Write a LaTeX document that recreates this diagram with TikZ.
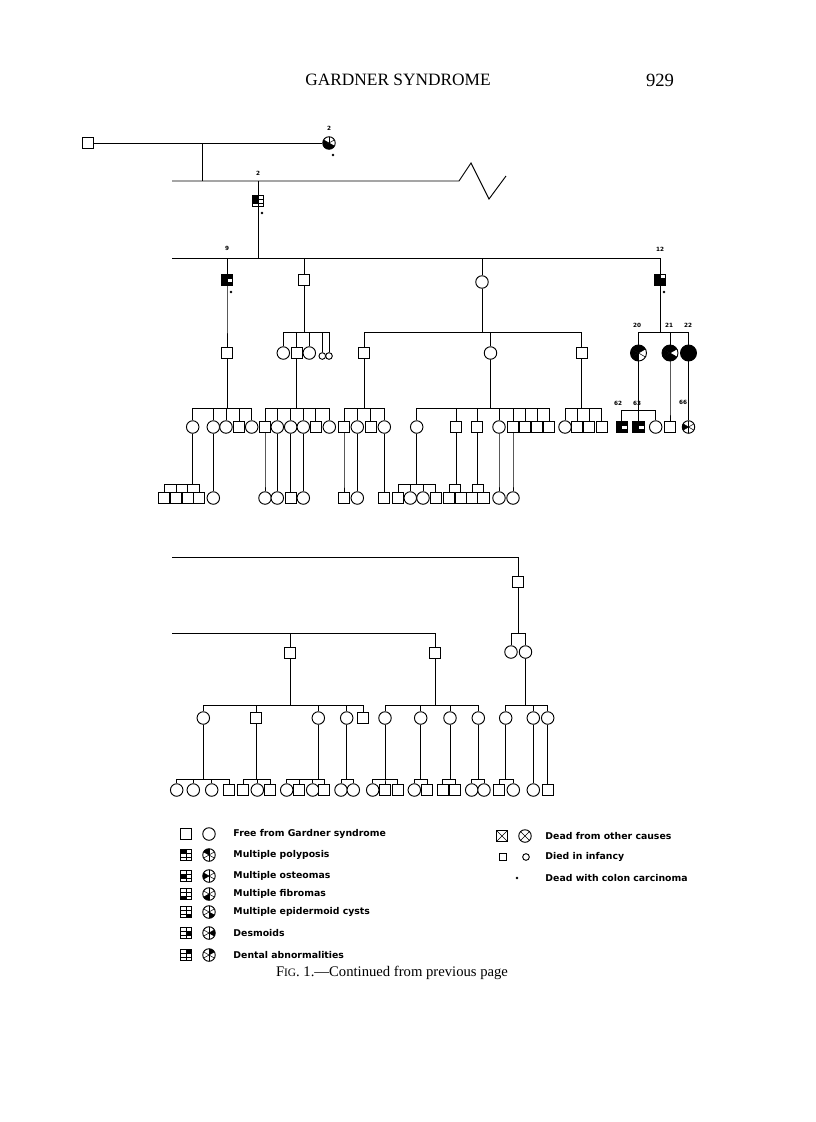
\documentclass[tikz,border=0pt]{standalone}
\usepackage{fontspec}
\setmainfont{Liberation Serif}
\setsansfont{Liberation Sans}
\newfontfamily\legfont{DejaVu Sans}
\usetikzlibrary{calc}

% line of descent: parent, level of the sibship bar, children
\newcommand{\kin}[3]{%
  \foreach \ch in {#3} {\draw (#1.south) |- (\ch.north |- 0,#2) -- (\ch.north);}}

\begin{document}
\begin{tikzpicture}[x=0.75pt,y=-0.75pt,line width=0.7pt,
  sq/.style={draw,rectangle,fill=white,minimum size=8.4pt,inner sep=0pt},
  ci/.style={draw,circle,fill=white,minimum size=9.4pt,inner sep=0pt},
  cib/.style={ci,minimum size=12pt},
  sqs/.style={sq,minimum size=4.6pt},
  cis/.style={ci,minimum size=5pt},
  sqmark/.style={path picture={
    \foreach \cc/\rr in {#1} \fill[black] ([shift={(\cc*4.2pt,-\rr*2.8pt)}]path picture bounding box.north west) rectangle ++(4.2pt,-2.8pt);
    \draw[black,line width=.4pt] (path picture bounding box.north) -- (path picture bounding box.south)
      ($(path picture bounding box.north west)!1/3!(path picture bounding box.south west)$) -- ($(path picture bounding box.north east)!1/3!(path picture bounding box.south east)$)
      ($(path picture bounding box.north west)!2/3!(path picture bounding box.south west)$) -- ($(path picture bounding box.north east)!2/3!(path picture bounding box.south east)$);}},
  cimark/.style={path picture={
    \foreach \a in {#1} \fill[black] (path picture bounding box.center) -- ($(path picture bounding box.center)+(\a-30:12pt)$) -- ($(path picture bounding box.center)+(\a+30:12pt)$) -- cycle;
    \foreach \b in {30,90,150} \draw[black,line width=.4pt] ($(path picture bounding box.center)+(\b:12pt)$) -- ($(path picture bounding box.center)-(\b:12pt)$);}},
  crossed/.style={path picture={
    \draw[black,line width=.5pt] (path picture bounding box.north west) -- (path picture bounding box.south east)
      (path picture bounding box.north east) -- (path picture bounding box.south west);}},
  carc/.style={circle,fill,inner sep=0pt,minimum size=2.2pt},
  lab/.style={font=\legfont\bfseries\fontsize{4.3}{5}\selectfont,inner sep=0pt},
  leg/.style={font=\legfont\bfseries\fontsize{7}{8}\selectfont,anchor=west,inner sep=0pt}]

\useasboundingbox (0,0) rectangle (816,1122);

%% page head
\node[font=\fontsize{13}{15}\selectfont] (title) at (398,80) {GARDNER SYNDROME};
\node[font=\fontsize{14}{16}\selectfont] (page) at (660,80) {929};

%% generation I
\node[sq] (g1) at (88,143) {};
\node[ci,cimark={180,240,300}] (g2) at (329,143) {};
\node[lab] (lg2) at (329,128) {2};
\node[carc] (dg2) at (333,155) {};
\draw (g1.east) -- (g2.west);
\coordinate (m1) at (202,143);
\coordinate (s1L) at (172,181);
\coordinate (z1) at (459,181);
\coordinate (z2) at (471,163);
\coordinate (z3) at (489,199);
\coordinate (z4) at (506,176);
\draw (m1) -- (m1 |- s1L);
\draw (s1L) -- (z1) -- (z2) -- (z3) -- (z4);

%% generation II
\node[sq,sqmark={0/0,0/1}] (h2) at (258,201) {};
\node[lab] (lh2) at (258,173) {2};
\node[carc] (dh2) at (262,213) {};
\draw (h2.north) -- (h2.north |- s1L);

%% generation III
\coordinate (s2L) at (172,258);
\node[sq,sqmark={0/0,1/0,0/1,0/2,1/2}] (i9) at (227,280) {};
\node[sq] (iB) at (304,280) {};
\node[ci] (iC) at (482,282) {};
\node[sq,sqmark={0/0,0/1,1/1,0/2,1/2}] (i12) at (660,280) {};
\node[lab] (li9) at (227,248) {9};
\node[lab] (li12) at (660,249) {12};
\node[carc] (di9) at (231,292) {};
\node[carc] (di12) at (664,292) {};
\draw (s2L) -| (i12.north);
\draw (h2.south) -- (h2.south |- s2L);
\foreach \n in {i9,iB,iC} \draw (\n.north) -- (\n.north |- s2L);

%% generation IV
\node[sq] (j9) at (227,353) {};
\foreach \n/\x/\s in {jB1/283.3/ci,jB2/296.7/sq,jB3/309.3/ci,jC1/364/sq,jC2/490.5/ci,jC3/581.7/sq}
  \node[\s] (\n) at (\x,353) {};
\node[cis] (jB4) at (322.3,356) {};
\node[cis] (jB5) at (329,356) {};
\node[cib,cimark={60,120,180,240}] (k20) at (638.5,353) {};
\node[cib,cimark={60,120,180,240,300}] (k21) at (670,353) {};
\node[cib,fill=black] (k22) at (688.5,353) {};
\foreach \n/\x in {20/637,21/669,22/688} \node[lab] (l\n) at (\x,325) {\n};
\kin{i9}{320}{j9}
\kin{iB}{332}{jB1,jB2,jB3,jB4,jB5}
\kin{iC}{332}{jC1,jC2,jC3}
\kin{i12}{332}{k20,k21,k22}

%% generation V
\foreach \n/\x/\s in {a1/192.7/ci,a2/213.3/ci,a3/226/ci,a4/239.3/sq,a5/251.7/ci,
    b1/265/sq,b2/277.3/ci,b3/290.7/ci,b4/303.3/ci,b5/315.7/sq,b6/329.3/ci,
    c1/344/sq,c2/357.3/ci,c3/370.7/sq,c4/384.3/ci,
    d1/416.7/ci,d2/456/sq,d3/477.3/sq,d4/499/ci,d5/513/sq,d6/525/sq,d7/537/sq,d8/549/sq,
    e1/565/ci,e2/577.3/sq,e3/589.3/sq,e4/601.7/sq,f1/655.7/ci,f21/670/sq}
  \node[\s] (\n) at (\x,427) {};
\node[sq,sqmark={0/0,1/0,0/1,0/2,1/2}] (k62) at (621.7,427) {};
\node[sq,sqmark={0/0,1/0,0/1,0/2,1/2}] (k63) at (638.5,427) {};
\node[ci,cimark={180}] (f66) at (688.5,427) {};
\node[lab] (l62) at (618,403) {62};
\node[lab] (l63) at (637,403) {63};
\node[lab] (l66) at (683,402) {66};
\kin{j9}{408}{a1,a2,a3,a4,a5}
\kin{jB2}{408}{b1,b2,b3,b4,b5,b6}
\kin{jC1}{408}{c1,c2,c3,c4}
\kin{jC2}{408}{d1,d2,d3,d4,d5,d6,d7,d8}
\kin{jC3}{408}{e1,e2,e3,e4}
\kin{k20}{410}{k62,k63,f1}
\kin{k21}{410}{f21}
\kin{k22}{410}{f66}

%% generation VI
\foreach \n/\x/\s in {r1/164/sq,r2/176/sq,r3/187.7/sq,r4/199.3/sq,r5/213.3/ci,
    r6/265/ci,r7/277.3/ci,r8/290.7/sq,r9/303.3/ci,r10/344/sq,r11/357.3/ci,r12/384.3/sq,
    r13/398.3/sq,r14/410.3/ci,r15/423/ci,r16/435.7/sq,r17/449.3/sq,r18/460.7/sq,
    r19/472/sq,r20/483.5/sq,r21/499/ci,r22/513/ci}
  \node[\s] (\n) at (\x,498) {};
\kin{a1}{484}{r1,r2,r3,r4}
\kin{a2}{484}{r5}
\kin{b1}{484}{r6}
\kin{b2}{484}{r7}
\kin{b3}{484}{r8}
\kin{b4}{484}{r9}
\kin{c1}{484}{r10}
\kin{c2}{484}{r11}
\kin{c4}{484}{r12}
\kin{d1}{484}{r13,r14,r15,r16}
\kin{d2}{484}{r17,r18}
\kin{d3}{484}{r19,r20}
\kin{d4}{484}{r21}
\kin{d5}{484}{r22}

%% second branch, continued from previous page
\coordinate (s3L) at (172,557);
\coordinate (s4L) at (172,633);
\node[sq] (u1) at (518,582) {};
\node[sq] (v1) at (290,653) {};
\node[sq] (v2) at (435,653) {};
\draw (s3L) -| (u1.north);
\draw (s4L) -| (v2.north);
\draw (v1.north) -- (v1.north |- s4L);
\node[ci] (w1) at (511,652) {};
\node[ci] (w2) at (525.5,652) {};
\kin{u1}{633}{w1,w2}

\foreach \n/\x/\s in {x1/203.3/ci,x2/256/sq,x3/318.3/ci,x4/346.7/ci,x5/363.3/sq,
    x6/385/ci,x7/420.7/ci,x8/450/ci,x9/478.3/ci,x10/505.7/ci,x11/533.3/ci,x12/547.7/ci}
  \node[\s] (\n) at (\x,718) {};
\kin{v1}{705}{x1,x2,x3,x4,x5}
\kin{v2}{705}{x6,x7,x8,x9}
\kin{w2}{705}{x10,x11,x12}

\foreach \n/\x/\s in {y1/176.7/ci,y2/193.3/ci,y3/211.7/ci,y4/229/sq,y5/243.3/sq,y6/257.3/ci,y7/270/sq,
    y8/286.7/ci,y9/299.3/sq,y10/312.7/ci,y11/324.3/sq,y12/341/ci,y13/353.3/ci,
    y14/372.7/ci,y15/385/sq,y16/397.7/sq,y17/414.3/ci,y18/427.3/sq,y19/442.7/sq,y20/455/sq,
    y21/471.7/ci,y22/484/ci,y23/499.3/sq,y24/513.3/ci,y25/533.3/ci,y26/547.7/sq}
  \node[\s] (\n) at (\x,790) {};
\kin{x1}{779}{y1,y2,y3,y4}
\kin{x2}{779}{y5,y6,y7}
\kin{x3}{779}{y8,y9,y10,y11}
\kin{x4}{779}{y12,y13}
\kin{x6}{779}{y14,y15,y16}
\kin{x7}{779}{y17,y18}
\kin{x8}{779}{y19,y20}
\kin{x9}{779}{y21,y22}
\kin{x10}{779}{y23,y24}
\kin{x11}{779}{y25}
\kin{x12}{779}{y26}

%% legend
\node[sq] (ls0) at (186,834) {};
\node[ci] (lc0) at (209,834) {};
\foreach \i/\y/\cx/\cy/\ang in {1/855/0/0/120,2/876/0/1/180,3/894/0/2/240,4/912/1/2/300,5/933/1/1/0,6/955/1/0/60} {
  \node[sq,sqmark={\cx/\cy}] (ls\i) at (186,\y) {};
  \node[ci,cimark={\ang}] (lc\i) at (209,\y) {};
}
\foreach \y/\t in {834/Free from Gardner syndrome,855/Multiple polyposis,876/Multiple osteomas,
    894/Multiple fibromas,912/Multiple epidermoid cysts,933/Desmoids,955/Dental abnormalities}
  \node[leg] (t\y) at (233,\y) {\t};
\node[sq,crossed] (ld1) at (502,836) {};
\node[ci,crossed] (ld2) at (525,836) {};
\node[sqs] (ld3) at (503,857) {};
\node[cis] (ld4) at (526,857) {};
\node[carc] (ld5) at (517,878) {};
\foreach \y/\t in {836/Dead from other causes,857/Died in infancy,878/Dead with colon carcinoma}
  \node[leg] (t\y) at (545,\y) {\t};

\node[font=\fontsize{11}{13}\selectfont] (cap) at (392,973) {F{\fontsize{8.5}{10}\selectfont IG}. 1.---Continued from previous page};
\end{tikzpicture}
\end{document}
